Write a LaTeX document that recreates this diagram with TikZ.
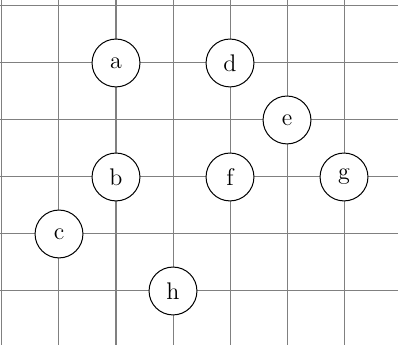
\documentclass[tikz,border=0pt]{standalone}
\usetikzlibrary{calc}
\definecolor{GridClr}{rgb}{0.5,0.5,0.5}

\begin{document}
\begin{tikzpicture}[vertex/.style={circle,draw=black,fill=white,line width=0.5pt,minimum size=0.84cm,inner sep=0pt,font=\large}]
\useasboundingbox (-0.035,0.053) rectangle (6.947,6.105);

\draw[GridClr,line width=0.5pt] (-0.035,0.053) grid (6.947,6.105);

\node[vertex] (a) at (2,5) {a};
\node[vertex] (d) at (4,5) {d};
\node[vertex] (e) at (5,4) {e};
\node[vertex] (b) at (2,3) {b};
\node[vertex] (f) at (4,3) {f};
\node[vertex] (g) at (6,3) {g};
\node[vertex] (c) at (1,2) {c};
\node[vertex] (h) at (3,1) {h};

\end{tikzpicture}
\end{document}
